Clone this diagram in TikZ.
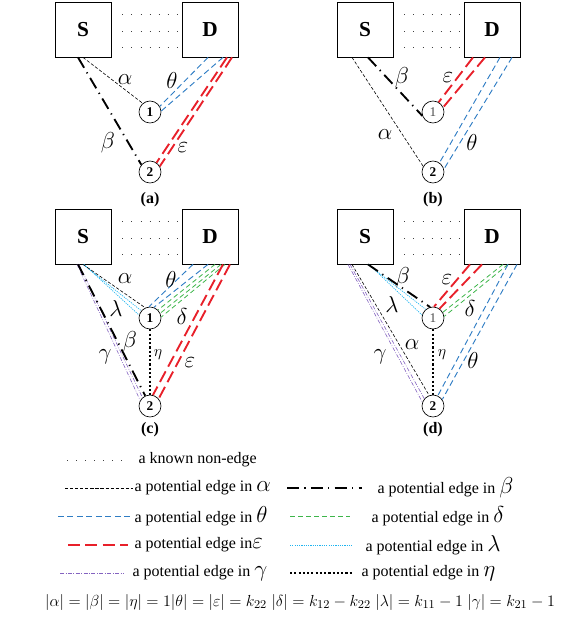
\documentclass[tikz,border=0pt]{standalone}
\usepackage{fontspec}
\setmainfont{Liberation Serif}
\usetikzlibrary{positioning}
\definecolor{cblue}{HTML}{2F7DC4}
\definecolor{cgreen}{HTML}{3DB54A}
\definecolor{cred}{HTML}{E8202A}
\definecolor{ccyan}{HTML}{1FB4F0}
\definecolor{cpurple}{HTML}{8463C0}
\newcommand{\gk}[1]{{\fontsize{16}{16}\selectfont$#1$}}
\tikzset{
  every picture/.style={line width=0.4pt},
  box/.style={draw, line width=0.6pt, minimum width=42pt, minimum height=41.25pt, inner sep=0pt, font=\fontsize{16}{18}\selectfont\bfseries},
  vert/.style={draw, circle, line width=0.5pt, inner sep=0pt, minimum size=16.5pt, font=\fontsize{10}{12}\selectfont\bfseries},
  vertlight/.style={vert, font=\fontsize{10}{12}\selectfont, text=black!70},
  lab/.style={font=\fontsize{16.5}{18}\selectfont, inner sep=0pt},
  labsmall/.style={font=\fontsize{12.5}{14}\selectfont, inner sep=0pt},
  panelcap/.style={font=\fontsize{12}{14}\selectfont\bfseries},
  legtext/.style={font=\fontsize{12}{14}\selectfont, anchor=west, inner sep=1pt},
  nonedge/.style={draw=black!75, line width=0.5pt, dash pattern=on 0.5pt off 6.3pt},
  ealpha/.style={draw=black, line width=0.45pt, dash pattern=on 2.4pt off 1.4pt},
  ebeta/.style={draw=black, line width=1.4pt, dash pattern=on 9pt off 4pt on 0.9pt off 4pt},
  etheta/.style={draw=cblue, line width=0.7pt, dash pattern=on 4.5pt off 2.6pt},
  edelta/.style={draw=cgreen, line width=0.6pt, dash pattern=on 3.6pt off 2.4pt},
  eeps/.style={draw=cred, line width=1.4pt, dash pattern=on 9pt off 4pt},
  elambda/.style={draw=ccyan, line width=0.5pt, dash pattern=on 0.9pt off 0.8pt},
  egamma/.style={draw=cpurple, line width=0.45pt, dash pattern=on 3pt off 1.2pt on 0.5pt off 1.2pt},
  eeta/.style={draw=black, line width=1.3pt, dash pattern=on 1.6pt off 1.6pt},
}
\begin{document}
\begin{tikzpicture}[x=0.75pt, y=-0.75pt]
  \useasboundingbox (0,0) rectangle (578,622);
  % source and destination boxes with the known non-edges
  \foreach \p/\x/\y in {a/0/0, b/282/0, c/0/207, d/282/207} {
    \node[box] (S\p) at (83+\x,29.5+\y) {S};
    \node[box] (D\p) at (210+\x,29.5+\y) {D};
    \foreach \dy in {-15,2,18}
      \draw[nonedge] ([shift={(11,\dy)}]S\p.east) -- ([shift={(-4,\dy)}]D\p.west);
  }
  % (a)
  \node[vert] (na1) at (150,112) {1};
  \node[vert] (na2) at (150,172) {2};
  \node[panelcap] (capa) at (150,200) {(a)};
  \draw[ealpha] (Sa.south) -- (na1.130);
  \draw[ebeta] ([shift={(-5,0)}]Sa.south) -- (na2.140);
  \draw[etheta] ([shift={(-2,0)}]Da.south) -- (na1.30);
  \draw[etheta] ([shift={(13,0)}]Da.south) -- (na1.5);
  \draw[eeps] ([shift={(17,0)}]Da.south) -- (na2.55);
  \draw[eeps] ([shift={(22,0)}]Da.south) -- (na2.30);
  \node[lab] (la1) at (125,80) {$\alpha$};
  \node[lab] (la2) at (172,80) {$\theta$};
  \node[lab] (la3) at (108,143) {$\beta$};
  \node[lab] (la4) at (183,148) {$\varepsilon$};
  % (b)
  \node[vertlight] (nb1) at (433,112) {1};
  \node[vert] (nb2) at (433,172) {2};
  \node[panelcap] (capb) at (433,200) {(b)};
  \draw[ealpha] ([shift={(-13,0)}]Sb.south) -- (nb2.150);
  \draw[ebeta] ([shift={(3,0)}]Sb.south) -- (nb1.200);
  \draw[eeps] ([shift={(-19,0)}]Db.south) -- (nb1.60);
  \draw[eeps] ([shift={(-7,0)}]Db.south) -- (nb1.25);
  \draw[etheta] ([shift={(8,0)}]Db.south) -- (nb2.55);
  \draw[etheta] ([shift={(20,0)}]Db.south) -- (nb2.15);
  \node[lab] (lb1) at (402,78) {$\beta$};
  \node[lab] (lb2) at (448,78) {$\varepsilon$};
  \node[lab] (lb3) at (385,135) {$\alpha$};
  \node[lab] (lb4) at (472,142) {$\theta$};
  % (c)
  \node[vert] (nc1) at (150,318) {1};
  \node[vert] (nc2) at (150,406) {2};
  \node[panelcap] (capc) at (150,430) {(c)};
  \draw[egamma] ([shift={(-6,0)}]Sc.south) -- (nc2.150);
  \draw[egamma] ([shift={(-4,0)}]Sc.south) -- (nc2.132);
  \draw[ebeta] ([shift={(-5,0)}]Sc.south) -- (nc2.115);
  \draw[elambda] (Sc.south) -- (nc1.140);
  \draw[elambda] ([shift={(1,0)}]Sc.south) -- (nc1.165);
  \draw[ealpha] (Sc.south) -- (nc1.115);
  \draw[etheta] ([shift={(-17,0)}]Dc.south) -- (nc1.95);
  \draw[etheta] ([shift={(-2,0)}]Dc.south) -- (nc1.70);
  \draw[edelta] ([shift={(5,0)}]Dc.south) -- (nc1.45);
  \draw[edelta] ([shift={(11,0)}]Dc.south) -- (nc1.25);
  \draw[edelta] ([shift={(15,0)}]Dc.south) -- (nc1.5);
  \draw[eeps] ([shift={(13,0)}]Dc.south) -- (nc2.75);
  \draw[eeps] ([shift={(20,0)}]Dc.south) -- (nc2.40);
  \draw[eeta] (nc1.south) -- (nc2.north);
  \node[lab] (lc1) at (125,279) {$\alpha$};
  \node[lab] (lc2) at (171,279) {$\theta$};
  \node[lab] (lc3) at (116,308) {$\lambda$};
  \node[lab] (lc4) at (182,316) {$\delta$};
  \node[lab] (lc5) at (130,342) {$\beta$};
  \node[lab] (lc6) at (105,357) {$\gamma$};
  \node[labsmall] (lc7) at (158,355) {$\eta$};
  \node[lab] (lc8) at (190,363) {$\varepsilon$};
  % (d)
  \node[vertlight] (nd1) at (433,318) {1};
  \node[vert] (nd2) at (433,406) {2};
  \node[panelcap] (capd) at (433,430) {(d)};
  \draw[egamma] ([shift={(-17,0)}]Sd.south) -- (nd2.160);
  \draw[egamma] ([shift={(-15,0)}]Sd.south) -- (nd2.140);
  \draw[ealpha] ([shift={(-13,0)}]Sd.south) -- (nd2.110);
  \draw[elambda] ([shift={(3,0)}]Sd.south) -- (nd1.130);
  \draw[elambda] ([shift={(4,0)}]Sd.south) -- (nd1.165);
  \draw[ebeta] ([shift={(3,0)}]Sd.south) -- (nd1.105);
  \draw[eeps] ([shift={(-22,0)}]Dd.south) -- (nd1.85);
  \draw[eeps] ([shift={(-10,0)}]Dd.south) -- (nd1.55);
  \draw[edelta] ([shift={(11,0)}]Dd.south) -- (nd1.30);
  \draw[edelta] ([shift={(16,0)}]Dd.south) -- (nd1.8);
  \draw[etheta] ([shift={(16,0)}]Dd.south) -- (nd2.65);
  \draw[etheta] ([shift={(25,0)}]Dd.south) -- (nd2.35);
  \draw[eeta] (nd1.south) -- (nd2.north);
  \node[lab] (ld1) at (403,278) {$\beta$};
  \node[lab] (ld2) at (447,280) {$\varepsilon$};
  \node[lab] (ld3) at (392,304) {$\lambda$};
  \node[lab] (ld4) at (470,308) {$\delta$};
  \node[lab] (ld5) at (412,345) {$\alpha$};
  \node[labsmall] (ld6) at (442,355) {$\eta$};
  \node[lab] (ld7) at (473,360) {$\theta$};
  \node[lab] (ld8) at (380,357) {$\gamma$};
  % legend
  \draw[nonedge] (67,460) coordinate (k0) -- (127,460) coordinate (k1);
  \node[legtext] (tk) at (137,460) {a known non-edge};
  \draw[ealpha] (65,488) coordinate (a0) -- (133,488) coordinate (a1);
  \node[legtext] (ta) at (133,488) {a potential edge in \gk{\alpha}};
  \draw[ebeta] (287,488) coordinate (b0) -- (362,488) coordinate (b1);
  \node[legtext] (tb) at (376,488) {a potential edge in \gk{\beta}};
  \draw[etheta] (58,516) coordinate (t0) -- (132,516) coordinate (t1);
  \node[legtext] (tt) at (133,516) {a potential edge in \gk{\theta}};
  \draw[edelta] (290,516) coordinate (d0) -- (350,516) coordinate (d1);
  \node[legtext] (td) at (370,516) {a potential edge in \gk{\delta}};
  \draw[eeps] (68,545) coordinate (e0) -- (128,545) coordinate (e1);
  \node[legtext] (te) at (133,545) {a potential edge in\gk{\varepsilon}};
  \draw[elambda] (290,545) coordinate (l0) -- (352,545) coordinate (l1);
  \node[legtext] (tl) at (364,545) {a potential edge in \gk{\lambda}};
  \draw[egamma] (60,573) coordinate (g0) -- (123,573) coordinate (g1);
  \node[legtext] (tg) at (131,573) {a potential edge in \gk{\gamma}};
  \draw[eeta] (290,573) coordinate (h0) -- (352,573) coordinate (h1);
  \node[legtext] (th) at (360,573) {a potential edge in \gk{\eta}};
  \node[font=\fontsize{13}{15}\selectfont] (sizes) at (300,602)
    {$\big|\alpha\big|=\big|\beta\big|=\big|\eta\big|=1\big|\theta\big|=\big|\varepsilon\big|=k_{22}\;\big|\delta\big|=k_{12}-k_{22}\;\big|\lambda\big|=k_{11}-1\;\big|\gamma\big|=k_{21}-1$};
\end{tikzpicture}
\end{document}
